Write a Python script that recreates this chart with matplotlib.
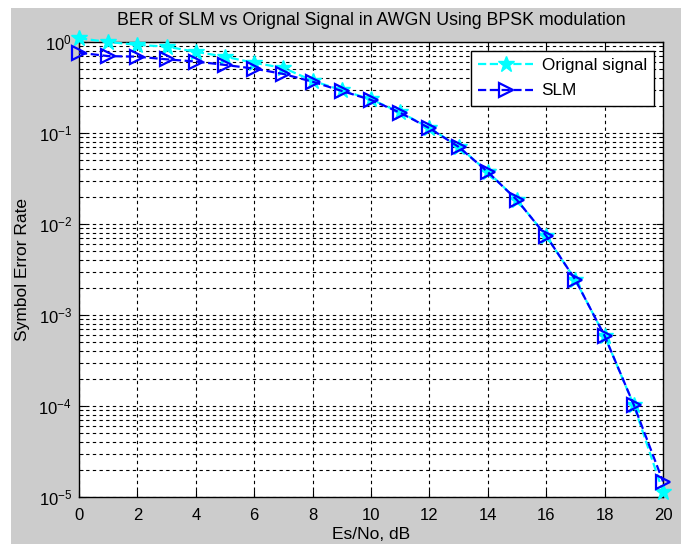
import matplotlib
matplotlib.use("Agg")
import matplotlib.pyplot as plt
from matplotlib.patches import Rectangle
from matplotlib.ticker import LogLocator, NullFormatter, FixedLocator

snr_db = [0, 1, 2, 3, 4, 5, 6, 7, 8, 9, 10, 11, 12, 13, 14, 15, 16, 17, 18, 19, 20]
ser_original = [1.1, 1.0, 0.93, 0.89, 0.78, 0.69, 0.59, 0.52, 0.375, 0.295, 0.234,
                0.169, 0.114, 0.071, 0.0375, 0.0184, 0.0074, 0.00243, 0.00059,
                1.02e-4, 1.14e-5]
ser_slm = [0.763, 0.70, 0.69, 0.645, 0.61, 0.56, 0.51, 0.445, 0.366, 0.29, 0.231,
           0.167, 0.113, 0.0704, 0.0373, 0.0183, 0.0074, 0.00243, 0.00059,
           1.03e-4, 1.48e-5]
xticks = [0, 2, 4, 6, 8, 10, 12, 14, 16, 18, 20]

plt.rcParams['font.family'] = ['Liberation Sans', 'DejaVu Sans']
plt.rcParams['mathtext.fontset'] = 'custom'
plt.rcParams['mathtext.rm'] = 'Liberation Sans'

fig = plt.figure(figsize=(6.81, 5.44), dpi=100, facecolor='#cccccc')
fig.patches.append(Rectangle((0, 1 - 8 / 544), 1, 8 / 544, transform=fig.transFigure,
                             facecolor='white', edgecolor='none', zorder=0))
fig.patches.append(Rectangle((0, 0), 11 / 681, 1, transform=fig.transFigure,
                             facecolor='white', edgecolor='none', zorder=0))

ax = fig.add_axes([79 / 681, 1 - 497 / 544, (663 - 79) / 681, (497 - 42) / 544])
ax.set_facecolor('white')

ax.semilogy(snr_db, ser_original, color='cyan', linestyle='--', linewidth=1.6,
            marker='*', markersize=12, markerfacecolor='cyan', markeredgecolor='cyan',
            label='Orignal signal', clip_on=False, zorder=3)
ax.semilogy(snr_db, ser_slm, color='blue', linestyle='--', linewidth=1.6,
            marker='>', markersize=10, markerfacecolor='none', markeredgecolor='blue',
            markeredgewidth=1.6, label='SLM', clip_on=False, zorder=4)

ax.set_xlim(0, 20)
ax.set_ylim(1e-5, 1)
ax.xaxis.set_major_locator(FixedLocator(xticks))
ax.yaxis.set_major_locator(LogLocator(base=10, numticks=10))
ax.yaxis.set_minor_locator(LogLocator(base=10, subs=range(2, 10), numticks=20))
ax.yaxis.set_minor_formatter(NullFormatter())

grid_style = dict(color='black', linestyle=(0, (3, 3)), linewidth=0.8)
ax.grid(True, which='major', axis='both', **grid_style)
ax.grid(True, which='minor', axis='y', **grid_style)
ax.set_axisbelow(True)

ax.tick_params(which='both', direction='in', top=True, right=True, labelsize=12,
               colors='black')
ax.tick_params(which='major', length=5)
ax.tick_params(which='minor', length=3)
ax.tick_params(axis='x', pad=8)
ax.tick_params(axis='y', pad=5)
for s in ax.spines.values():
    s.set_linewidth(1.0)
    s.set_color('black')

ax.set_title('BER of SLM vs Orignal Signal in AWGN Using BPSK modulation',
             fontsize=12.8, pad=12)
ax.set_xlabel('Es/No, dB', fontsize=12.5, labelpad=3)
ax.set_ylabel('Symbol Error Rate', fontsize=12.5, labelpad=6)

leg = ax.legend(loc='upper right', fontsize=12.3, fancybox=False, framealpha=1,
                edgecolor='black', borderaxespad=0.5, handlelength=3.2,
                handletextpad=0.5, borderpad=0.45, labelspacing=0.6)
leg.get_frame().set_linewidth(1.0)

fig.savefig('out.png', dpi=100, facecolor=fig.get_facecolor())
